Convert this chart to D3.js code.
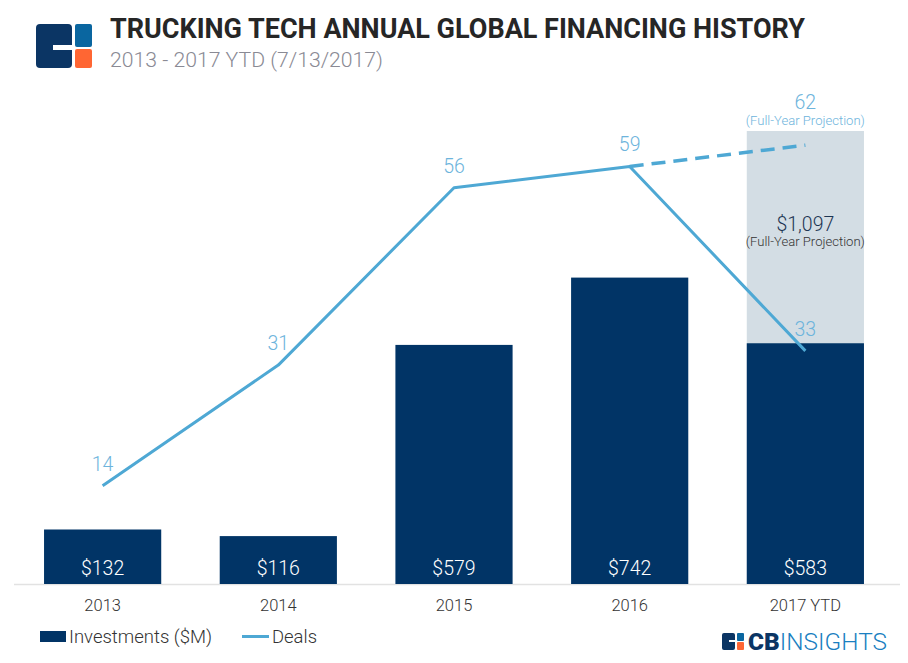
<!DOCTYPE html>
<meta charset="utf-8">
<title>Trucking tech annual global financing history</title>
<body>
<script src="https://cdn.jsdelivr.net/npm/d3@7"></script>
<style>
html, body {
    margin: 0;
    background: #fff;
}
svg {
    display: block;
    font-family: Roboto, "Noto Sans", sans-serif;
}
</style>
<script>
var years = ["2013", "2014", "2015", "2016", "2017 YTD"],
    investments = [132, 116, 579, 742, 583],
    deals = [14, 31, 56, 59, 33],
    projYear = "2017 YTD",
    projInvestment = 1097,
    projDeals = 62,
    prevYear = "2016";

var width = 908,
    height = 663;

var svg = d3.select("body").append("svg")
    .attr("width", width)
    .attr("height", height);

var x = d3.scaleBand()
    .domain(years)
    .range([14.7, 893.3])
    .paddingInner(0.333)
    .paddingOuter(0.167);

var y = d3.scaleLinear()
    .domain([0, projInvestment])
    .range([584, 131]);

var yDeals = d3.scaleLinear()
    .domain([0, 64])
    .range([585, 131]);

var navy = "#013466",
    lineBlue = "#4ea8d4",
    labelBlue = "#6db4dc";

// logo
var logo = svg.append("g");
logo.append("rect").attr("x", 36).attr("y", 24).attr("width", 36).attr("height", 44).attr("rx", 4).attr("fill", "#0b3564");
logo.append("rect").attr("x", 53).attr("y", 45).attr("width", 19).attr("height", 5).attr("fill", "#fff");
logo.append("rect").attr("x", 75).attr("y", 24).attr("width", 17).attr("height", 23).attr("rx", 2).attr("fill", "#0a66a0");
logo.append("rect").attr("x", 75).attr("y", 49).attr("width", 17).attr("height", 19).attr("rx", 2).attr("fill", "#ff6633");

svg.append("text")
    .attr("x", 110).attr("y", 38)
    .attr("font-size", 27).attr("font-weight", 700)
    .attr("fill", "#262626")
    .attr("textLength", 695).attr("lengthAdjust", "spacingAndGlyphs")
    .text("TRUCKING TECH ANNUAL GLOBAL FINANCING HISTORY");

svg.append("text")
    .attr("x", 110).attr("y", 67)
    .attr("font-size", 20).attr("font-weight", 300)
    .attr("fill", "#8a8a94")
    .attr("textLength", 273).attr("lengthAdjust", "spacingAndGlyphs")
    .text("2013 - 2017 YTD (7/13/2017)");

// baseline
svg.append("line")
    .attr("x1", 14).attr("x2", 900)
    .attr("y1", 584.5).attr("y2", 584.5)
    .attr("stroke", "#e2e2e2").attr("stroke-width", 1.5);

// projection bar
svg.append("rect")
    .attr("x", x(projYear))
    .attr("width", x.bandwidth())
    .attr("y", y(projInvestment))
    .attr("height", y(0) - y(projInvestment))
    .attr("fill", "#d3dde4");

svg.selectAll("rect.bar")
    .data(investments)
  .enter().append("rect")
    .attr("class", "bar")
    .attr("x", function(d, i) { return x(years[i]); })
    .attr("width", x.bandwidth())
    .attr("y", function(d) { return y(d); })
    .attr("height", function(d) { return y(0) - y(d); })
    .attr("fill", navy);

svg.selectAll("text.barlabel")
    .data(investments)
  .enter().append("text")
    .attr("class", "barlabel")
    .attr("x", function(d, i) { return x(years[i]) + x.bandwidth() / 2; })
    .attr("y", 575)
    .attr("text-anchor", "middle")
    .attr("font-size", 19.5).attr("font-weight", 300)
    .attr("fill", "#fff")
    .text(function(d) { return "$" + d3.format(",")(d); });

var cx = function(name) { return x(name) + x.bandwidth() / 2; };

svg.append("text")
    .attr("x", cx(projYear)).attr("y", 231)
    .attr("text-anchor", "middle")
    .attr("font-size", 19.5).attr("font-weight", 300)
    .attr("fill", "#1d3553")
    .text("$" + d3.format(",")(projInvestment));
svg.append("text")
    .attr("x", cx(projYear)).attr("y", 246)
    .attr("text-anchor", "middle")
    .attr("font-size", 12.5).attr("font-weight", 300)
    .attr("fill", "#333")
    .attr("textLength", 119).attr("lengthAdjust", "spacingAndGlyphs")
    .text("(Full-Year Projection)");

// deals line
var line = d3.line()
    .x(function(d, i) { return cx(years[i]); })
    .y(function(d) { return yDeals(d); });

svg.append("path")
    .datum(deals)
    .attr("d", line)
    .attr("fill", "none")
    .attr("stroke", lineBlue)
    .attr("stroke-width", 3)
    .attr("stroke-linejoin", "round");

var prevI = years.indexOf(prevYear);
svg.append("line")
    .attr("x1", cx(prevYear)).attr("y1", yDeals(deals[prevI]))
    .attr("x2", cx(projYear)).attr("y2", yDeals(projDeals))
    .attr("stroke", lineBlue)
    .attr("stroke-width", 3.5)
    .attr("stroke-dasharray", "14,8");

svg.selectAll("text.deallabel")
    .data(deals)
  .enter().append("text")
    .attr("class", "deallabel")
    .attr("x", function(d, i) { return cx(years[i]); })
    .attr("y", function(d) { return yDeals(d) - 15; })
    .attr("text-anchor", "middle")
    .attr("font-size", 19.5).attr("font-weight", 300)
    .attr("fill", labelBlue)
    .text(function(d) { return d; });

svg.append("text")
    .attr("x", cx(projYear)).attr("y", 109)
    .attr("text-anchor", "middle")
    .attr("font-size", 19.5).attr("font-weight", 300)
    .attr("fill", labelBlue)
    .text(projDeals);
svg.append("text")
    .attr("x", cx(projYear)).attr("y", 125)
    .attr("text-anchor", "middle")
    .attr("font-size", 12.5).attr("font-weight", 300)
    .attr("fill", labelBlue)
    .attr("textLength", 119).attr("lengthAdjust", "spacingAndGlyphs")
    .text("(Full-Year Projection)");

// x axis
var xAxis = svg.append("g")
    .attr("transform", "translate(0,592)")
    .call(d3.axisBottom(x).tickSize(0).tickPadding(7));
xAxis.select(".domain").remove();
xAxis.selectAll("text")
    .attr("font-family", "Roboto, sans-serif")
    .attr("font-size", 16.5)
    .attr("font-weight", 300)
    .attr("fill", "#333");

// legend
var legend = svg.append("g");
legend.append("rect").attr("x", 40).attr("y", 631).attr("width", 26).attr("height", 11).attr("fill", navy);
legend.append("text").attr("x", 69).attr("y", 643)
    .attr("font-size", 17.5).attr("font-weight", 300).attr("fill", "#333")
    .attr("textLength", 143).attr("lengthAdjust", "spacingAndGlyphs")
    .text("Investments ($M)");
legend.append("line").attr("x1", 242).attr("x2", 269).attr("y1", 636.5).attr("y2", 636.5)
    .attr("stroke", lineBlue).attr("stroke-width", 3);
legend.append("text").attr("x", 272).attr("y", 643)
    .attr("font-size", 17.5).attr("font-weight", 300).attr("fill", "#333")
    .attr("textLength", 45).attr("lengthAdjust", "spacingAndGlyphs")
    .text("Deals");

// CB Insights mark
var cb = svg.append("g");
cb.append("rect").attr("x", 722).attr("y", 633).attr("width", 13).attr("height", 17).attr("rx", 2).attr("fill", "#0b3564");
cb.append("rect").attr("x", 729).attr("y", 640).attr("width", 6).attr("height", 2).attr("fill", "#fff");
cb.append("rect").attr("x", 737).attr("y", 633).attr("width", 7).attr("height", 8).attr("rx", 1).attr("fill", "#0a66a0");
cb.append("rect").attr("x", 737).attr("y", 642).attr("width", 7).attr("height", 8).attr("rx", 1).attr("fill", "#ff6633");
var cbText = cb.append("text").attr("x", 748).attr("y", 650).attr("font-size", 23)
    .attr("textLength", 139).attr("lengthAdjust", "spacingAndGlyphs");
cbText.append("tspan").attr("font-weight", 900).attr("fill", "#0b3564").text("CB");
cbText.append("tspan").attr("font-weight", 300).attr("fill", "#1a7fc1").text("INSIGHTS");
</script>
